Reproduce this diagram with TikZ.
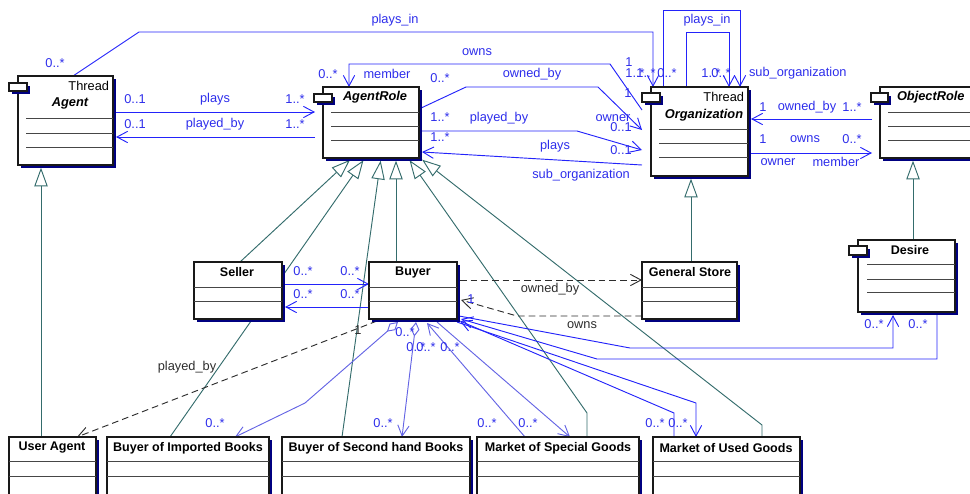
\documentclass[tikz,border=0pt]{standalone}
\usepackage{fontspec}
\setmainfont{Liberation Sans}
\usetikzlibrary{arrows.meta,fit,calc}
\pgfdeclarelayer{background}
\pgfsetlayers{background,main}

\definecolor{assoc}{RGB}{35,35,250}
\definecolor{assocsoft}{RGB}{100,100,228}
\definecolor{labelblue}{RGB}{45,45,235}
\definecolor{genc}{RGB}{52,108,108}
\definecolor{depc}{RGB}{45,45,45}
\definecolor{shadowc}{RGB}{0,0,128}
\definecolor{framec}{RGB}{25,25,25}
\definecolor{sepc}{RGB}{70,70,70}

\tikzset{
  every node/.style={inner sep=0pt, outer sep=0pt},
  txt/.style={font=\fontsize{9.6}{11}\selectfont},
  lbl/.style={txt, text=labelblue},
  deplbl/.style={txt, text=depc},
  cname/.style={font=\fontsize{9.4}{11}\selectfont\bfseries},
  aname/.style={font=\fontsize{9.6}{11}\selectfont\bfseries\itshape},
  classbox/.style={draw=framec, line width=0.8pt, fill=white,
    preaction={fill=shadowc, transform canvas={shift={(2.4pt,-2.4pt)}}}},
  sepline/.style={draw=sepc, line width=0.75pt},
  barb/.style={-{Straight Barb[length=8pt,width=8.5pt]}},
  assocline/.style={draw=assoc, line width=0.7pt, barb},
  softline/.style={draw=assocsoft, line width=0.7pt},
  aggr/.style={softline, {Diamond[open,fill=white,length=11pt,width=6.5pt]}-{Straight Barb[length=8pt,width=8.5pt]}},
  depline/.style={draw=depc, line width=0.7pt, dash pattern=on 5pt off 3pt, barb},
  genline/.style={draw=genc, line width=0.7pt,
    -{Triangle[open,fill=white,length=14pt,width=10pt]}, shorten >=2pt},
}

\begin{document}
\begin{tikzpicture}[x=0.75pt,y=-0.75pt]
\useasboundingbox (0,0) rectangle (970,493);
\clip (0,0) rectangle (970,493);

% ---------- classes ----------
% Agent
\node[classbox, fit={(18,76) (113,165)}] (agent) {};
\node[classbox, fit={(9,83) (27,91)}] (agent-tab) {};
\node[txt, anchor=east] (agent-st) at (109,86) {Thread};
\node[aname] (agent-name) at (70,103) {Agent};
\foreach \yy in {118,133,147} \draw[sepline] (26,\yy) -- (agent.east |- 0,\yy);

% AgentRole
\node[classbox, fit={(323,87) (419,158)}] (agentrole) {};
\node[classbox, fit={(314,94) (332,102)}] (agentrole-tab) {};
\node[aname] (agentrole-name) at (375,97) {AgentRole};
\foreach \yy in {112,126,140} \draw[sepline] (331,\yy) -- (agentrole.east |- 0,\yy);

% Organization
\node[classbox, fit={(651,87) (748,176)}] (org) {};
\node[classbox, fit={(642,93) (660,102)}] (org-tab) {};
\node[txt, anchor=east] (org-st) at (744,97) {Thread};
\node[aname] (org-name) at (704,115) {Organization};
\foreach \yy in {129,143,157} \draw[sepline] (659,\yy) -- (org.east |- 0,\yy);

% ObjectRole
\node[classbox, fit={(880,87) (990,158)}] (objrole) {};
\node[classbox, fit={(871,93) (888,102)}] (objrole-tab) {};
\node[aname, anchor=west] (objrole-name) at (897,97) {ObjectRole};
\foreach \yy in {112,126,140} \draw[sepline] (888,\yy) -- (990,\yy);

% Seller, Buyer, General Store
\node[classbox, fit={(194,262) (282,319)}] (seller) {};
\node[cname] (seller-name) at (237,272) {Seller};
\foreach \yy in {287,301} \draw[sepline] (seller.west |- 0,\yy) -- (seller.east |- 0,\yy);

\node[classbox, fit={(369,262) (457,319)}] (buyer) {};
\node[cname] (buyer-name) at (413,272) {Buyer};
\foreach \yy in {287,301} \draw[sepline] (buyer.west |- 0,\yy) -- (buyer.east |- 0,\yy);

\node[classbox, fit={(642,262) (737,319)}] (gstore) {};
\node[cname] (gstore-name) at (690,272) {General Store};
\foreach \yy in {287,301} \draw[sepline] (gstore.west |- 0,\yy) -- (gstore.east |- 0,\yy);

% Desire
\node[classbox, fit={(858,240) (955,312)}] (desire) {};
\node[classbox, fit={(849,246) (867,255)}] (desire-tab) {};
\node[cname] (desire-name) at (910,250) {Desire};
\foreach \yy in {264,279,292} \draw[sepline] (867,\yy) -- (desire.east |- 0,\yy);

% bottom row
\node[classbox, fit={(9,437) (96,520)}] (useragent) {};
\node[cname] (useragent-name) at (52,448) {User Agent};
\node[classbox, fit={(107,437) (269,520)}] (bib) {};
\node[cname] (bib-name) at (188,448) {Buyer of Imported Books};
\node[classbox, fit={(282,437) (470,520)}] (bsb) {};
\node[cname] (bsb-name) at (376,448) {Buyer of Second hand Books};
\node[classbox, fit={(477,437) (639,520)}] (msg) {};
\node[cname] (msg-name) at (558,448) {Market of Special Goods};
\node[classbox, fit={(653,437) (800,520)}] (mug) {};
\node[cname] (mug-name) at (726,448) {Market of Used Goods};
\foreach \bx in {useragent,bib,bsb,msg,mug}
  \foreach \yy in {461,476} \draw[sepline] (\bx.west |- 0,\yy) -- (\bx.east |- 0,\yy);

% ---------- connectors ----------
\begin{pgfonlayer}{background}
% generalisations
\draw[genline] (41,0 |- useragent.north) -- (41,0 |- agent.south);
\draw[genline] (691,0 |- gstore.north) -- (691,0 |- org.south);
\draw[genline] (913,0 |- desire.north) -- (913,0 |- objrole.south);
\draw[genline] (240,0 |- seller.north) -- (352,0 |- agentrole.south);
\draw[genline] (170,0 |- bib.north) -- (365,0 |- agentrole.south);
\draw[genline] (342,0 |- bsb.north) -- (381,0 |- agentrole.south);
\draw[genline] (396,0 |- buyer.north) -- (396,0 |- agentrole.south);
\draw[genline] (587,0 |- msg.north) -- (587,413) -- (408,0 |- agentrole.south);
\draw[genline] (762,0 |- mug.north) -- (762,425) -- (420,0 |- agentrole.south);

% associations around Agent, AgentRole and Organization
\draw[assocline] (73,0 |- agent.north) -- (139,32) -- (653,32) -- (653,0 |- org.north);
\draw[assocline] (686,0 |- org.north) -- (686,32) -- (729,32) -- (729,0 |- org.north);
\draw[assocline] (663,0 |- org.north) -- (663,10) -- (740,10) -- (740,0 |- org.north);
\draw[assocline] (agent.east |- 0,112) -- ($(agentrole.west |- 0,112)+(-8,0)$);
\draw[assocline] ($(agentrole.west |- 0,137)+(-8,0)$) -- ($(agent.east |- 0,137)+(3,0)$);
\draw[assocline] ($(org.west |- 0,110)+(-9,0)$) -- (610,64) -- (349,64) -- (349,0 |- agentrole.north);
\draw[assocline] (agentrole.east |- 0,109) -- (466,87) -- (598,87) -- ($(org.west |- 0,130)+(-9,0)$);
\draw[assocline] (agentrole.east |- 0,131) -- (577,131) -- ($(org.west |- 0,150)+(-9,0)$);
\draw[assocline] ($(org.west |- 0,165)+(-9,0)$) -- ($(agentrole.east |- 0,152)+(3,0)$);
\draw[assocline] ($(objrole.west |- 0,119)+(-8,0)$) -- ($(org.east |- 0,119)+(3,0)$);
\draw[assocline] ($(org.east |- 0,153)+(3,0)$) -- ($(objrole.west |- 0,153)+(-8,0)$);

% associations around Buyer
\draw[assocline] ($(seller.east |- 0,284)+(3,0)$) -- (buyer.west |- 0,284);
\draw[assocline] (buyer.west |- 0,307) -- ($(seller.east |- 0,307)+(3,0)$);
\draw[assocline] ($(buyer.south east)+(2,-3)$) -- (630,348) -- (893,348) -- ($(893,0 |- desire.south)+(0,3)$);
\draw[assocline] (937,0 |- desire.south) -- (937,359) -- (597,359) -- ($(buyer.south east)+(4,0)$);
\draw[aggr] ($(398,0 |- buyer.south)+(0,3)$) -- (305,403) -- (235,0 |- bib.north);
\draw[aggr] ($(416,0 |- buyer.south)+(0,3)$) -- (402,0 |- bsb.north);
\draw[softline, barb] (525,0 |- msg.north) -- ($(427,0 |- buyer.south)+(0,4)$);
\draw[softline, barb] ($(437,0 |- buyer.south)+(0,3)$) -- (570,0 |- msg.north);
\draw[assocline] (674,0 |- mug.north) -- (674,413) -- ($(buyer.south east)+(3,2)$);
\draw[assocline] ($(buyer.south east)+(0,3)$) -- (696,403) -- (696,0 |- mug.north);

% dependencies
\draw[depline] ($(buyer.east |- 0,280)+(3,0)$) -- (gstore.west |- 0,280);
\draw[depline] (gstore.west |- 0,316) -- (517,316) -- ($(buyer.east |- 0,300)+(4,0)$);
\draw[depline] ($(buyer.south west)+(8,2)$) -- (77,0 |- useragent.north);
\end{pgfonlayer}

% ---------- labels ----------
\node[lbl] (m1) at (55,63) {0..*};
\node[lbl] (r1) at (395,20) {plays\_in};
\node[lbl] (m2) at (629,62) {1};
\node[lbl] (m3) at (635,73) {1..*};
\node[lbl] (m4) at (646,73) {1..*};
\node[lbl] (m5) at (667,73) {0..*};
\node[lbl] (r2) at (707,20) {plays\_in};
\node[lbl] (m6) at (711,73) {1..*};
\node[lbl] (m7) at (721,73) {0..*};
\node[lbl, anchor=west] (r3) at (749,73) {sub\_organization};

\node[lbl] (m8) at (135,99) {0..1};
\node[lbl] (r4) at (215,99) {plays};
\node[lbl] (m9) at (295,99) {1..*};
\node[lbl] (m10) at (135,124) {0..1};
\node[lbl] (r5) at (215,124) {played\_by};
\node[lbl] (m11) at (295,124) {1..*};

\node[lbl] (r6) at (477,52) {owns};
\node[lbl] (m12) at (328,74) {0..*};
\node[lbl] (r7) at (387,74) {member};
\node[lbl] (m13) at (440,78) {0..*};
\node[lbl] (r8) at (532,74) {owned\_by};
\node[lbl] (m14) at (440,117) {1..*};
\node[lbl] (r9) at (499,118) {played\_by};
\node[lbl] (m15) at (440,137) {1..*};
\node[lbl] (r10) at (555,146) {plays};
\node[lbl] (r11) at (581,175) {sub\_organization};
\node[lbl] (r12) at (613,118) {owner};
\node[lbl] (m16) at (621,127) {0..1};
\node[lbl] (m17) at (621,150) {0..1};
\node[lbl] (m18) at (628,93) {1};

\node[lbl] (m19) at (763,107) {1};
\node[lbl] (r13) at (807,107) {owned\_by};
\node[lbl] (m20) at (852,107) {1..*};
\node[lbl] (m21) at (763,139) {1};
\node[lbl] (r14) at (805,139) {owns};
\node[lbl] (m22) at (852,139) {0..*};
\node[lbl] (r15) at (778,162) {owner};
\node[lbl] (r16) at (836,162) {member};

\node[lbl] (m23) at (303,271) {0..*};
\node[lbl] (m24) at (350,271) {0..*};
\node[lbl] (m25) at (303,294) {0..*};
\node[lbl] (m26) at (350,294) {0..*};

\node[deplbl] (d1) at (550,289) {owned\_by};
\node[deplbl] (d2) at (582,325) {owns};
\node[lbl] (m27) at (471,299) {1};
\node[deplbl] (d3) at (187,367) {played\_by};
\node[deplbl] (d4) at (358,330) {1};

\node[lbl] (m28) at (874,324) {0..*};
\node[lbl] (m29) at (918,324) {0..*};

\node[lbl] (m30) at (405,332) {0..*};
\node[lbl] (m31) at (416,347) {0..*};
\node[lbl] (m32) at (426,347) {0..*};
\node[lbl] (m33) at (450,347) {0..*};

\node[lbl] (m34) at (215,423) {0..*};
\node[lbl] (m35) at (383,423) {0..*};
\node[lbl] (m36) at (487,423) {0..*};
\node[lbl] (m37) at (528,423) {0..*};
\node[lbl] (m38) at (655,423) {0..*};
\node[lbl] (m39) at (678,423) {0..*};
\end{tikzpicture}
\end{document}
